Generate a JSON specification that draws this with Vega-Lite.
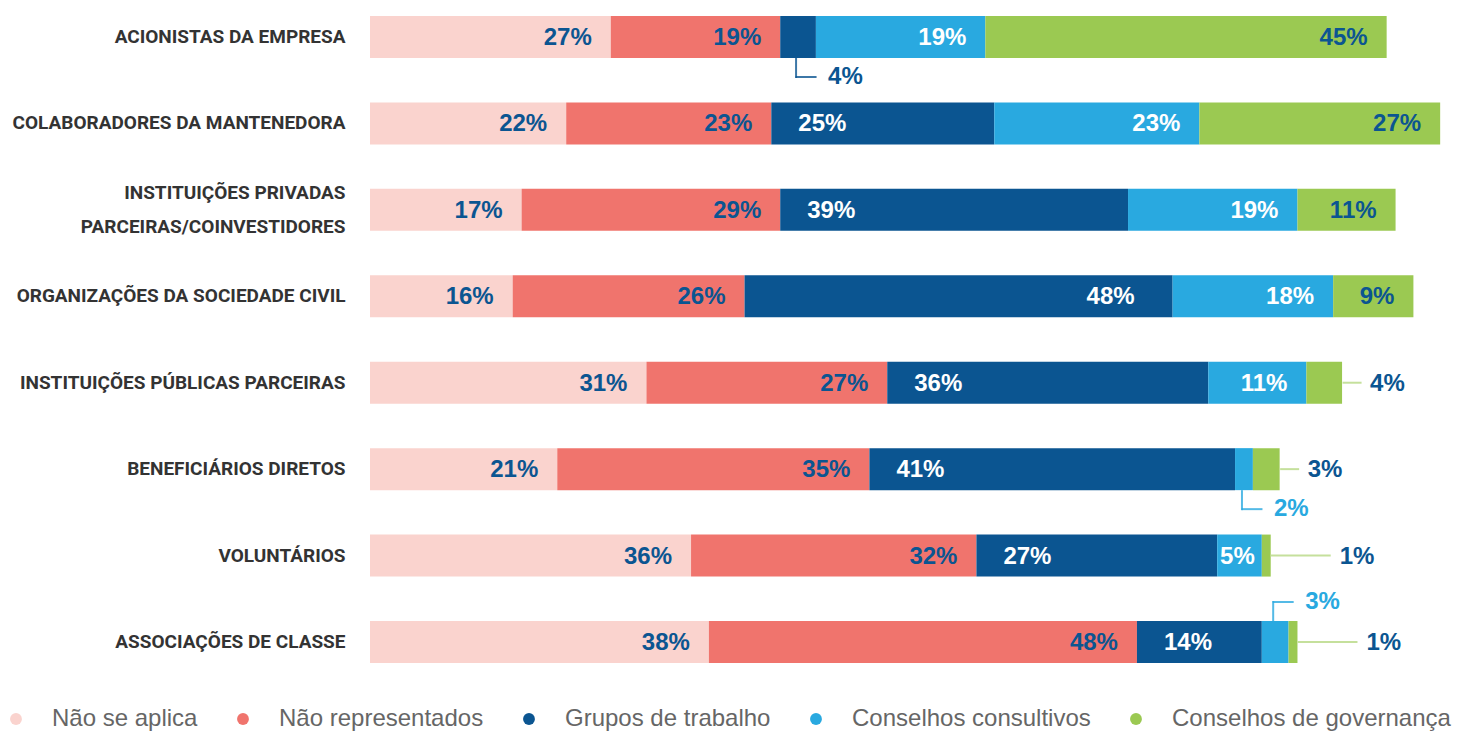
{
  "$schema": "https://vega.github.io/schema/vega-lite/v6.json",
  "width": 1088,
  "height": 647,
  "autosize": {"type": "none"},
  "padding": {"left": 370, "top": 16, "right": 10, "bottom": 70},
  "background": "white",
  "config": {"view": {"stroke": null}},
  "data": {"values": [
    {"cat": "ACIONISTAS DA EMPRESA", "serie": "Não se aplica", "k": 1, "v": 0.27},
    {"cat": "ACIONISTAS DA EMPRESA", "serie": "Não representados", "k": 2, "v": 0.19},
    {"cat": "ACIONISTAS DA EMPRESA", "serie": "Grupos de trabalho", "k": 3, "v": 0.04},
    {"cat": "ACIONISTAS DA EMPRESA", "serie": "Conselhos consultivos", "k": 4, "v": 0.19},
    {"cat": "ACIONISTAS DA EMPRESA", "serie": "Conselhos de governança", "k": 5, "v": 0.45},
    {"cat": "COLABORADORES DA MANTENEDORA", "serie": "Não se aplica", "k": 1, "v": 0.22},
    {"cat": "COLABORADORES DA MANTENEDORA", "serie": "Não representados", "k": 2, "v": 0.23},
    {"cat": "COLABORADORES DA MANTENEDORA", "serie": "Grupos de trabalho", "k": 3, "v": 0.25},
    {"cat": "COLABORADORES DA MANTENEDORA", "serie": "Conselhos consultivos", "k": 4, "v": 0.23},
    {"cat": "COLABORADORES DA MANTENEDORA", "serie": "Conselhos de governança", "k": 5, "v": 0.27},
    {"cat": "INSTITUIÇÕES PRIVADAS|PARCEIRAS/COINVESTIDORES", "serie": "Não se aplica", "k": 1, "v": 0.17},
    {"cat": "INSTITUIÇÕES PRIVADAS|PARCEIRAS/COINVESTIDORES", "serie": "Não representados", "k": 2, "v": 0.29},
    {"cat": "INSTITUIÇÕES PRIVADAS|PARCEIRAS/COINVESTIDORES", "serie": "Grupos de trabalho", "k": 3, "v": 0.39},
    {"cat": "INSTITUIÇÕES PRIVADAS|PARCEIRAS/COINVESTIDORES", "serie": "Conselhos consultivos", "k": 4, "v": 0.19},
    {"cat": "INSTITUIÇÕES PRIVADAS|PARCEIRAS/COINVESTIDORES", "serie": "Conselhos de governança", "k": 5, "v": 0.11},
    {"cat": "ORGANIZAÇÕES DA SOCIEDADE CIVIL", "serie": "Não se aplica", "k": 1, "v": 0.16},
    {"cat": "ORGANIZAÇÕES DA SOCIEDADE CIVIL", "serie": "Não representados", "k": 2, "v": 0.26},
    {"cat": "ORGANIZAÇÕES DA SOCIEDADE CIVIL", "serie": "Grupos de trabalho", "k": 3, "v": 0.48},
    {"cat": "ORGANIZAÇÕES DA SOCIEDADE CIVIL", "serie": "Conselhos consultivos", "k": 4, "v": 0.18},
    {"cat": "ORGANIZAÇÕES DA SOCIEDADE CIVIL", "serie": "Conselhos de governança", "k": 5, "v": 0.09},
    {"cat": "INSTITUIÇÕES PÚBLICAS PARCEIRAS", "serie": "Não se aplica", "k": 1, "v": 0.31},
    {"cat": "INSTITUIÇÕES PÚBLICAS PARCEIRAS", "serie": "Não representados", "k": 2, "v": 0.27},
    {"cat": "INSTITUIÇÕES PÚBLICAS PARCEIRAS", "serie": "Grupos de trabalho", "k": 3, "v": 0.36},
    {"cat": "INSTITUIÇÕES PÚBLICAS PARCEIRAS", "serie": "Conselhos consultivos", "k": 4, "v": 0.11},
    {"cat": "INSTITUIÇÕES PÚBLICAS PARCEIRAS", "serie": "Conselhos de governança", "k": 5, "v": 0.04},
    {"cat": "BENEFICIÁRIOS DIRETOS", "serie": "Não se aplica", "k": 1, "v": 0.21},
    {"cat": "BENEFICIÁRIOS DIRETOS", "serie": "Não representados", "k": 2, "v": 0.35},
    {"cat": "BENEFICIÁRIOS DIRETOS", "serie": "Grupos de trabalho", "k": 3, "v": 0.41},
    {"cat": "BENEFICIÁRIOS DIRETOS", "serie": "Conselhos consultivos", "k": 4, "v": 0.02},
    {"cat": "BENEFICIÁRIOS DIRETOS", "serie": "Conselhos de governança", "k": 5, "v": 0.03},
    {"cat": "VOLUNTÁRIOS", "serie": "Não se aplica", "k": 1, "v": 0.36},
    {"cat": "VOLUNTÁRIOS", "serie": "Não representados", "k": 2, "v": 0.32},
    {"cat": "VOLUNTÁRIOS", "serie": "Grupos de trabalho", "k": 3, "v": 0.27},
    {"cat": "VOLUNTÁRIOS", "serie": "Conselhos consultivos", "k": 4, "v": 0.05},
    {"cat": "VOLUNTÁRIOS", "serie": "Conselhos de governança", "k": 5, "v": 0.01},
    {"cat": "ASSOCIAÇÕES DE CLASSE", "serie": "Não se aplica", "k": 1, "v": 0.38},
    {"cat": "ASSOCIAÇÕES DE CLASSE", "serie": "Não representados", "k": 2, "v": 0.48},
    {"cat": "ASSOCIAÇÕES DE CLASSE", "serie": "Grupos de trabalho", "k": 3, "v": 0.14},
    {"cat": "ASSOCIAÇÕES DE CLASSE", "serie": "Conselhos consultivos", "k": 4, "v": 0.03},
    {"cat": "ASSOCIAÇÕES DE CLASSE", "serie": "Conselhos de governança", "k": 5, "v": 0.01}
  ]},
  "transform": [
    {"stack": "v", "groupby": ["cat"], "sort": [{"field": "k", "order": "ascending"}], "as": ["x0", "x1"]},
    {"calculate": "(datum.x0 + datum.x1) / 2", "as": "mid"}
  ],
  "encoding": {
    "y": {
      "field": "cat", "type": "nominal",
      "sort": ["ACIONISTAS DA EMPRESA", "COLABORADORES DA MANTENEDORA", "INSTITUIÇÕES PRIVADAS|PARCEIRAS/COINVESTIDORES", "ORGANIZAÇÕES DA SOCIEDADE CIVIL", "INSTITUIÇÕES PÚBLICAS PARCEIRAS", "BENEFICIÁRIOS DIRETOS", "VOLUNTÁRIOS", "ASSOCIAÇÕES DE CLASSE"],
      "scale": {"paddingInner": 0.514, "paddingOuter": 0},
      "axis": {
        "title": null, "domain": false, "ticks": false,
        "labelExpr": "split(datum.label, '|')",
        "labelFont": "Roboto",
        "labelFontSize": 19, "labelFontWeight": "bold", "labelColor": "#333333",
        "labelPadding": 25, "labelLimit": 500, "labelLineHeight": 34,
        "labelOffset": {"condition": {"test": "indexof(datum.value, '|') >= 0", "value": -17}, "value": 0}
      }
    }
  },
  "layer": [
    {
      "mark": {"type": "bar"},
      "encoding": {
        "x": {"field": "x0", "type": "quantitative", "scale": {"domain": [0, 1.22], "nice": false, "zero": true}, "axis": null},
        "x2": {"field": "x1"},
        "color": {
          "field": "serie", "type": "nominal",
          "scale": {
            "domain": ["Não se aplica", "Não representados", "Grupos de trabalho", "Conselhos consultivos", "Conselhos de governança"],
            "range": ["#fad3ce", "#f0746d", "#0b5591", "#29a9e0", "#9bc952"]
          },
          "legend": {
            "title": null, "orient": "none", "legendX": -366, "legendY": 691,
            "direction": "horizontal", "symbolType": "circle", "symbolSize": 140,
            "symbolOpacity": 1, "symbolStrokeWidth": 0,
            "labelFont": "Liberation Sans", "labelFontSize": 24, "labelColor": "#666666",
            "labelOffset": 24, "labelLimit": 500, "columnPadding": 33, "gridAlign": "none"
          }
        }
      }
    },
    {
      "transform": [{"filter": "datum.v >= 0.08 && datum.k != 3"}],
      "mark": {"type": "text", "align": "right", "baseline": "middle", "dx": -19, "dy": 1, "font": "Liberation Sans", "fontSize": 24, "fontWeight": "bold"},
      "encoding": {
        "x": {"field": "x1", "type": "quantitative"},
        "text": {"field": "v", "type": "quantitative", "format": ".0%"},
        "color": {"condition": {"test": "datum.k == 4", "value": "#ffffff"}, "value": "#0b5591"}
      }
    },
    {
      "transform": [{"filter": "datum.v >= 0.08 && datum.v < 0.45 && datum.k == 3"}],
      "mark": {"type": "text", "align": "left", "baseline": "middle", "dx": 27, "dy": 1, "font": "Liberation Sans", "fontSize": 24, "fontWeight": "bold", "color": "#ffffff"},
      "encoding": {
        "x": {"field": "x0", "type": "quantitative"},
        "text": {"field": "v", "type": "quantitative", "format": ".0%"}
      }
    },
    {
      "transform": [{"filter": "datum.v >= 0.45 && datum.k == 3"}],
      "mark": {"type": "text", "align": "right", "baseline": "middle", "dx": -38, "dy": 1, "font": "Liberation Sans", "fontSize": 24, "fontWeight": "bold", "color": "#ffffff"},
      "encoding": {
        "x": {"field": "x1", "type": "quantitative"},
        "text": {"field": "v", "type": "quantitative", "format": ".0%"}
      }
    },
    {
      "transform": [{"filter": "datum.v >= 0.05 && datum.v < 0.08"}],
      "mark": {"type": "text", "align": "right", "baseline": "middle", "dx": -7, "dy": 1, "font": "Liberation Sans", "fontSize": 24, "fontWeight": "bold"},
      "encoding": {
        "x": {"field": "x1", "type": "quantitative"},
        "text": {"field": "v", "type": "quantitative", "format": ".0%"},
        "color": {"condition": {"test": "datum.k == 4 || datum.k == 3", "value": "#ffffff"}, "value": "#0b5591"}
      }
    },
    {
      "transform": [{"filter": "datum.v < 0.05 && datum.k == 5 && datum.v > 0.015"}],
      "mark": {"type": "tick", "orient": "horizontal", "size": 19, "thickness": 2, "xOffset": 10, "color": "#c5e09c", "opacity": 1},
      "encoding": {"x": {"field": "x1", "type": "quantitative"}}
    },
    {
      "transform": [{"filter": "datum.v < 0.05 && datum.k == 5 && datum.v > 0.015"}],
      "mark": {"type": "text", "align": "left", "baseline": "middle", "dx": 28, "dy": 1, "font": "Liberation Sans", "fontSize": 24, "fontWeight": "bold", "color": "#0b5591"},
      "encoding": {
        "x": {"field": "x1", "type": "quantitative"},
        "text": {"field": "v", "type": "quantitative", "format": ".0%"}
      }
    },
    {
      "transform": [{"filter": "datum.k == 5 && datum.v <= 0.015"}],
      "mark": {"type": "tick", "orient": "horizontal", "size": 60, "thickness": 2, "xOffset": 30, "color": "#c5e09c", "opacity": 1},
      "encoding": {"x": {"field": "x1", "type": "quantitative"}}
    },
    {
      "transform": [{"filter": "datum.k == 5 && datum.v <= 0.015"}],
      "mark": {"type": "text", "align": "left", "baseline": "middle", "dx": 69, "dy": 1, "font": "Liberation Sans", "fontSize": 24, "fontWeight": "bold", "color": "#0b5591"},
      "encoding": {
        "x": {"field": "x1", "type": "quantitative"},
        "text": {"field": "v", "type": "quantitative", "format": ".0%"}
      }
    },
    {
      "transform": [{"filter": "datum.v < 0.05 && datum.k != 5 && datum.cat != 'ASSOCIAÇÕES DE CLASSE'"}],
      "mark": {"type": "tick", "orient": "vertical", "size": 20, "thickness": 2, "xOffset": -2, "yOffset": 31, "opacity": 0.8},
      "encoding": {
        "x": {"field": "mid", "type": "quantitative"},
        "color": {"condition": {"test": "datum.k == 4", "value": "#29a9e0"}, "value": "#0b5591"}
      }
    },
    {
      "transform": [{"filter": "datum.v < 0.05 && datum.k != 5 && datum.cat != 'ASSOCIAÇÕES DE CLASSE'"}],
      "mark": {"type": "tick", "orient": "horizontal", "size": 21, "thickness": 2, "xOffset": 8, "yOffset": 40, "opacity": 0.8},
      "encoding": {
        "x": {"field": "mid", "type": "quantitative"},
        "color": {"condition": {"test": "datum.k == 4", "value": "#29a9e0"}, "value": "#0b5591"}
      }
    },
    {
      "transform": [{"filter": "datum.v < 0.05 && datum.k != 5 && datum.cat != 'ASSOCIAÇÕES DE CLASSE'"}],
      "mark": {"type": "text", "align": "left", "baseline": "middle", "dx": 30, "dy": 40, "font": "Liberation Sans", "fontSize": 24, "fontWeight": "bold"},
      "encoding": {
        "x": {"field": "mid", "type": "quantitative"},
        "text": {"field": "v", "type": "quantitative", "format": ".0%"},
        "color": {"condition": {"test": "datum.k == 4", "value": "#29a9e0"}, "value": "#0b5591"}
      }
    },
    {
      "transform": [{"filter": "datum.v < 0.05 && datum.k == 4 && datum.cat == 'ASSOCIAÇÕES DE CLASSE'"}],
      "mark": {"type": "tick", "orient": "vertical", "size": 20, "thickness": 2, "xOffset": -2, "yOffset": -31, "opacity": 0.8, "color": "#29a9e0"},
      "encoding": {"x": {"field": "mid", "type": "quantitative"}}
    },
    {
      "transform": [{"filter": "datum.v < 0.05 && datum.k == 4 && datum.cat == 'ASSOCIAÇÕES DE CLASSE'"}],
      "mark": {"type": "tick", "orient": "horizontal", "size": 21, "thickness": 2, "xOffset": 8, "yOffset": -40, "opacity": 0.8, "color": "#29a9e0"},
      "encoding": {"x": {"field": "mid", "type": "quantitative"}}
    },
    {
      "transform": [{"filter": "datum.v < 0.05 && datum.k == 4 && datum.cat == 'ASSOCIAÇÕES DE CLASSE'"}],
      "mark": {"type": "text", "align": "left", "baseline": "middle", "dx": 30, "dy": -40, "font": "Liberation Sans", "fontSize": 24, "fontWeight": "bold", "color": "#29a9e0"},
      "encoding": {
        "x": {"field": "mid", "type": "quantitative"},
        "text": {"field": "v", "type": "quantitative", "format": ".0%"}
      }
    }
  ]
}
